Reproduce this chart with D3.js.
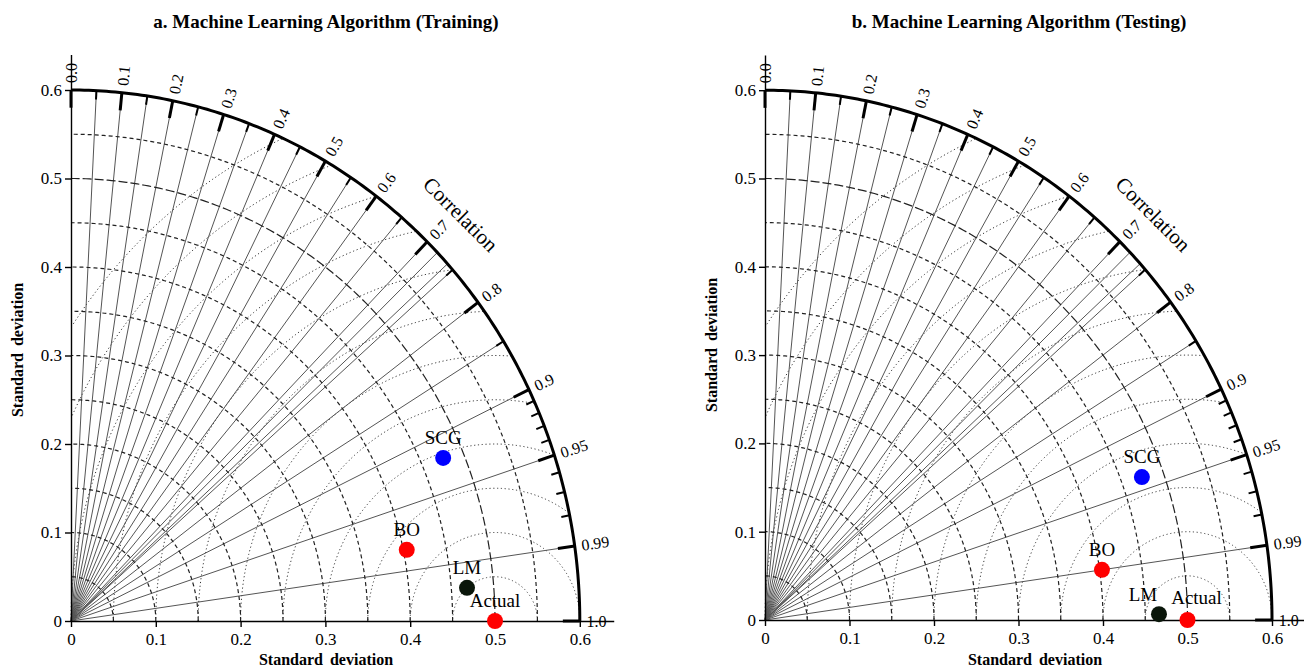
<!DOCTYPE html>
<html>
<head>
<meta charset="utf-8">
<script src="https://cdn.jsdelivr.net/npm/d3@7"></script>
<style>
  body { margin: 0; background: #fff; }
  text { font-family: "Liberation Serif", "Times New Roman", serif; fill: #000; }
</style>
</head>
<body>
<script>
// models and their (sd, correlation)
var models = ['SCG', 'BO', 'LM', 'Actual']
var modelColors = ['#0000ff', '#ff0000', '#0a160a', '#ff0000']
var trainSD = [0.476, 0.404, 0.4685, 0.5]
var trainCorr = [0.922, 0.980, 0.9968, 1.0]
var testSD = [0.4745, 0.4028, 0.4663, 0.5]
var testCorr = [0.940, 0.990, 0.9999, 1.0]

var sdTicks = [0, 0.1, 0.2, 0.3, 0.4, 0.5, 0.6]
var corrLabels = [0, 0.1, 0.2, 0.3, 0.4, 0.5, 0.6, 0.7, 0.8, 0.9, 0.95, 0.99, 1.0]
var corrMinor = [0.05, 0.15, 0.25, 0.35, 0.45, 0.55, 0.65, 0.75, 0.85, 0.91, 0.92, 0.93, 0.94, 0.96, 0.97, 0.98]
var corrLines = [0.05, 0.1, 0.15, 0.2, 0.25, 0.3, 0.35, 0.4, 0.45, 0.5, 0.55, 0.6, 0.65, 0.7, 0.72, 0.74, 0.75, 0.8, 0.85, 0.9, 0.95, 0.99]
var sdCircles = [0.05, 0.1, 0.15, 0.2, 0.25, 0.3, 0.35, 0.4, 0.45, 0.5, 0.55]
var rmsCircles = [0.05, 0.1, 0.15, 0.2, 0.25, 0.3, 0.35, 0.4, 0.45, 0.5, 0.55, 0.6]
var refSD = 0.5
var maxSD = 0.6
var axisMax = 0.64

var W = 1304, H = 667
var svg = d3.select('body').append('svg').attr('width', W).attr('height', H)

function polar(sd, c){
  var t = Math.acos(Math.min(1, c))
  return [sd*Math.cos(t), sd*Math.sin(t)]
}

function drawPanel(p){
  var x = d3.scaleLinear().domain([0, axisMax]).range([p.x0, p.x0 + axisMax*p.kx])
  var y = d3.scaleLinear().domain([0, axisMax]).range([p.y0, p.y0 - axisMax*p.ky])
  var line = d3.line().x(function(d){ return x(d[0]) }).y(function(d){ return y(d[1]) })
  var g = svg.append('g')

  // rms circles around the reference point (dotted)
  rmsCircles.forEach(function(r){
    var pts = d3.range(0, 180.01, 0.25).map(function(a){
      var t = a*Math.PI/180
      return [refSD + r*Math.cos(t), r*Math.sin(t)]
    }).filter(function(d){ return d[0] >= 0 && Math.hypot(d[0], d[1]) <= maxSD })
    g.append('path').attr('d', line(pts))
      .attr('fill', 'none').attr('stroke', '#333').attr('stroke-width', 1)
      .attr('stroke-dasharray', '1.2,2.6')
  })

  // radial correlation lines
  corrLines.forEach(function(c){
    g.append('path').attr('d', line([[0, 0], polar(maxSD, c)]))
      .attr('stroke', '#555').attr('stroke-width', 1).attr('fill', 'none')
  })

  // sd circles (dashed), reference sd long dashed
  sdCircles.forEach(function(r){
    var pts = d3.range(0, 90.01, 0.5).map(function(a){
      var t = a*Math.PI/180
      return [r*Math.cos(t), r*Math.sin(t)]
    })
    g.append('path').attr('d', line(pts))
      .attr('fill', 'none').attr('stroke', '#222').attr('stroke-width', 1.2)
      .attr('stroke-dasharray', Math.abs(r - refSD) < 1e-9 ? '9,3' : '4,3')
  })

  // outer arc
  var outer = d3.range(0, 90.01, 0.5).map(function(a){
    var t = a*Math.PI/180
    return [maxSD*Math.cos(t), maxSD*Math.sin(t)]
  })
  g.append('path').attr('d', line(outer)).attr('fill', 'none')
    .attr('stroke', '#000').attr('stroke-width', 3)

  // axes
  var fmt = function(d){ return d === 0 ? '0' : d3.format('.1f')(d) }
  var xAxis = g.append('g').attr('transform', 'translate(0,' + p.y0 + ')')
    .call(d3.axisBottom(x).tickValues(sdTicks).tickFormat(fmt).tickSize(6).tickSizeOuter(0))
  var yAxis = g.append('g').attr('transform', 'translate(' + p.x0 + ',0)')
    .call(d3.axisLeft(y).tickValues(sdTicks).tickFormat(fmt).tickSize(6).tickSizeOuter(0))
  ;[xAxis, yAxis].forEach(function(a){
    a.attr('font-family', null).attr('font-size', null)
    a.selectAll('path, line').attr('stroke', '#000').attr('stroke-width', 1.4)
    a.selectAll('text').style('font-size', '17px')
  })
  xAxis.selectAll('text').attr('dy', '0.9em')

  // ticks on the outer arc
  corrLabels.forEach(function(c){
    g.append('path').attr('d', line([polar(maxSD, c), polar(maxSD - 0.02, c)]))
      .attr('stroke', '#000').attr('stroke-width', 3)
  })
  corrMinor.forEach(function(c){
    g.append('path').attr('d', line([polar(maxSD, c), polar(maxSD - 0.01, c)]))
      .attr('stroke', '#000').attr('stroke-width', 2)
  })

  // correlation labels
  corrLabels.forEach(function(c){
    var pos = polar(maxSD + 0.008, c)
    var ang = Math.acos(Math.min(1, c))*180/Math.PI
    var txt = (c === 0.95 || c === 0.99) ? d3.format('.2f')(c) : d3.format('.1f')(c)
    g.append('text')
      .attr('transform', 'translate(' + x(pos[0]) + ',' + y(pos[1]) + ') rotate(' + (-ang) + ')')
      .attr('dy', '0.35em').attr('text-anchor', 'start')
      .style('font-size', '16px').text(txt)
  })

  var cp = polar(0.65, Math.cos(Math.PI/4))
  g.append('text')
    .attr('transform', 'translate(' + x(cp[0]) + ',' + y(cp[1]) + ') rotate(45)')
    .attr('text-anchor', 'middle').attr('dy', '0.35em')
    .style('font-size', '21px').text('Correlation')

  // points
  p.sd.forEach(function(s, i){
    var pt = polar(s, p.corr[i])
    g.append('circle').attr('cx', x(pt[0])).attr('cy', y(pt[1])).attr('r', 8)
      .attr('fill', modelColors[i])
    g.append('text').attr('x', x(pt[0]) + p.labelOff[i][0]).attr('y', y(pt[1]) + p.labelOff[i][1])
      .attr('text-anchor', 'middle').style('font-size', '19px').text(models[i])
  })

  // titles
  g.append('text').attr('x', p.titleX).attr('y', 28).attr('text-anchor', 'middle')
    .style('font-size', '19px').style('font-weight', 'bold').text(p.title)
  g.append('text').attr('x', p.xLabelX).attr('y', 665).attr('text-anchor', 'middle')
    .style('font-size', '16px').style('font-weight', 'bold').style('word-spacing', '3px')
    .text('Standard deviation')
  g.append('text').attr('transform', 'translate(' + p.yLabelX + ',' + p.yLabelY + ') rotate(-90)')
    .attr('text-anchor', 'middle')
    .style('font-size', '16px').style('font-weight', 'bold').style('word-spacing', '3px')
    .text('Standard deviation')
}

drawPanel({
  x0: 71, y0: 621, kx: 848, ky: 885,
  sd: trainSD, corr: trainCorr,
  labelOff: [[0, -14], [0, -14], [0, -14], [0, -14]],
  title: 'a. Machine Learning Algorithm (Training)', titleX: 326,
  xLabelX: 326, yLabelX: 23, yLabelY: 350
})
drawPanel({
  x0: 765, y0: 620, kx: 845, ky: 883,
  sd: testSD, corr: testCorr,
  labelOff: [[0, -14], [0, -14], [-16, -13], [9, -16]],
  title: 'b. Machine Learning Algorithm (Testing)', titleX: 1019,
  xLabelX: 1035, yLabelX: 717, yLabelY: 345
})
</script>
</body>
</html>
